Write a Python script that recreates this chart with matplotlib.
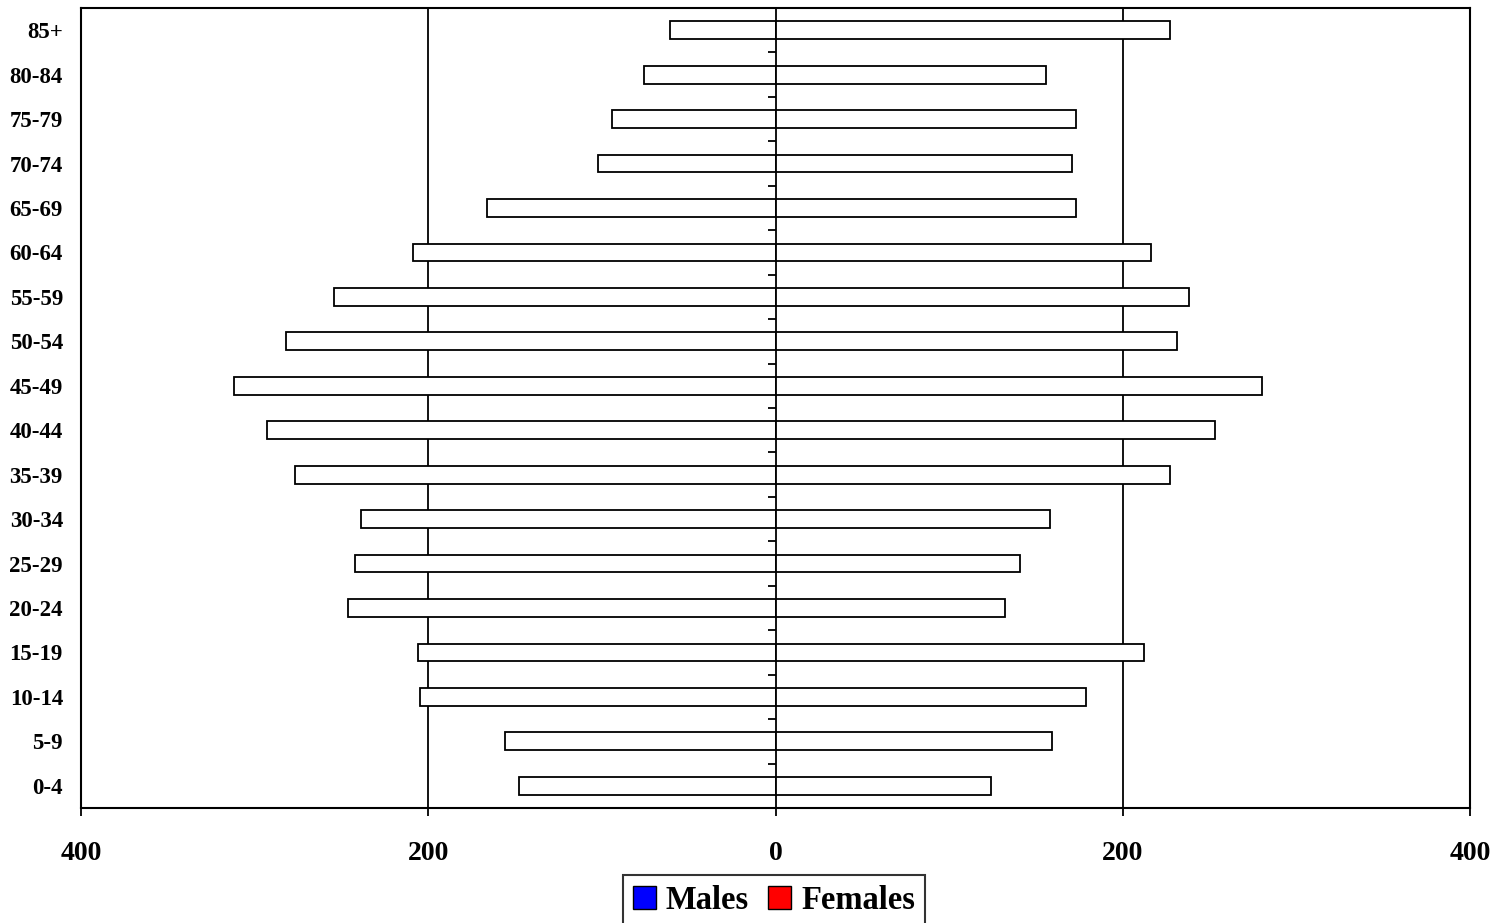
import matplotlib
matplotlib.use("Agg")
import matplotlib.pyplot as plt
import matplotlib.patches as mpatches
import numpy as np

plt.rcParams['font.family'] = ['Liberation Serif', 'DejaVu Serif']
plt.rcParams['font.weight'] = 'bold'

# age groups, youngest first (bottom of the pyramid)
ageGroups = ['0-4', '5-9', '10-14', '15-19', '20-24', '25-29', '30-34', '35-39',
             '40-44', '45-49', '50-54', '55-59', '60-64', '65-69', '70-74',
             '75-79', '80-84', '85+']
males = [148, 156, 205, 206, 246, 242, 239, 277, 293, 312, 282, 254, 209, 166,
         102, 94, 76, 61]
females = [124, 159, 179, 212, 132, 141, 158, 227, 253, 280, 231, 238, 216, 173,
           171, 173, 156, 227]
xTicks = [-400, -200, 0, 200, 400]
xTickLabels = ['400', '200', '0', '200', '400']

fig = plt.figure(figsize=(15.09, 9.23), dpi=100)
axPos = [81 / 1509, 1 - 808 / 923, (1470 - 81) / 1509, 800 / 923]
ax = fig.add_axes(axPos)

y = np.arange(len(ageGroups))
ax.barh(y, -np.array(males), height=0.4, color='white', edgecolor='black', linewidth=1.3, zorder=3)
ax.barh(y, females, height=0.4, color='white', edgecolor='black', linewidth=1.3, zorder=3)

for gx in [-200, 0, 200]:
    ax.axvline(gx, color='black', linewidth=1.3, zorder=2)

ax.set_xlim(-400, 400)
ax.set_ylim(-0.5, len(ageGroups) - 0.5)
ax.set_xticks(xTicks)
ax.set_xticklabels(xTickLabels, fontsize=20, fontweight='bold')
ax.set_yticks(y)
ax.set_yticklabels(ageGroups, fontsize=16.5, fontweight='bold')
ax.tick_params(axis='y', length=0, pad=13)
ax.tick_params(axis='x', length=6, width=1.3, direction='out', pad=18)
for s in ax.spines.values():
    s.set_linewidth(1.5)
    s.set_color('black')

# small ticks between age groups on the centre line
ax2 = fig.add_axes(axPos, frameon=False)
ax2.set_xlim(-400, 400)
ax2.set_ylim(-0.5, len(ageGroups) - 0.5)
ax2.patch.set_visible(False)
ax2.spines['left'].set_position(('data', 0))
ax2.spines['left'].set_visible(False)
ax2.set_xticks([])
ax2.set_yticks(y[:-1] + 0.5)
ax2.tick_params(axis='y', length=6, width=1.3, direction='out', labelleft=False)

maleP = mpatches.Patch(facecolor='blue', edgecolor='black', label='Males')
femaleP = mpatches.Patch(facecolor='red', edgecolor='black', label='Females')
leg = fig.legend(handles=[maleP, femaleP], loc='upper center',
                 bbox_to_anchor=(774 / 1509, 1 - 875 / 923), ncol=2,
                 prop={'size': 23.5, 'weight': 'bold'}, frameon=True, fancybox=False,
                 handlelength=0.7, handleheight=0.7, handletextpad=0.3,
                 columnspacing=0.6, borderpad=0.3, borderaxespad=0)
leg.get_frame().set_edgecolor('black')
leg.get_frame().set_linewidth(1.5)

fig.savefig('out.png', dpi=100)
